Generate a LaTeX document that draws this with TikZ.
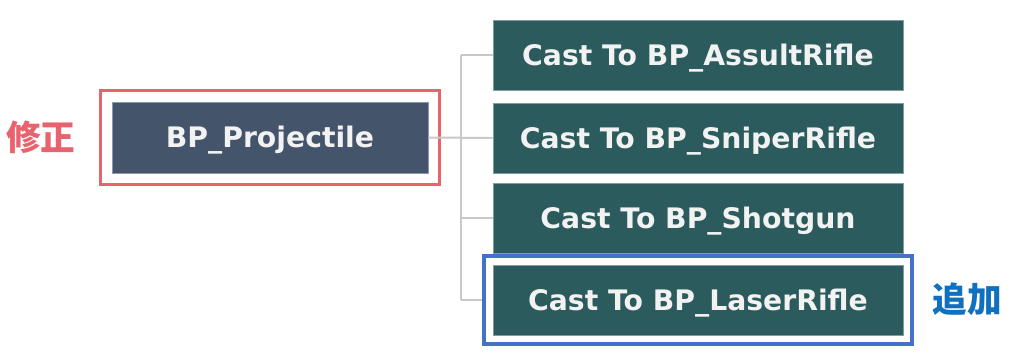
\documentclass[tikz,border=0pt]{standalone}
\usepackage{fontspec}
\setmainfont{DejaVu Sans}
\newfontfamily\jpfont{Noto Sans CJK JP}
\usepackage{tikz}
\usetikzlibrary{positioning,fit,calc}
\definecolor{cSlate}{HTML}{44546A}
\definecolor{cTeal}{HTML}{2B5B5C}
\definecolor{cRed}{HTML}{E8636E}
\definecolor{cBlue}{HTML}{4472C4}
\definecolor{cMark}{HTML}{1070C0}
\definecolor{cWire}{HTML}{C8C8C8}
\definecolor{cText}{HTML}{F2F2F2}

\begin{document}
\begin{tikzpicture}[
   x=0.75pt, y=-0.75pt,
   font=\fontsize{21.2}{24}\selectfont\bfseries,
   src/.style={fill=cSlate, draw=cSlate!60!white, line width=0.5pt, text=cText,
               minimum width=237pt, minimum height=53.25pt, inner sep=0pt,
               text height=15.5pt, text depth=0pt},
   cast/.style={fill=cTeal, draw=cTeal!60!white, line width=0.5pt, text=cText,
                minimum width=307.5pt, minimum height=52.5pt, inner sep=0pt,
                text height=15.5pt, text depth=0pt},
   frame/.style={line width=2.6pt, inner sep=#1},
   tag/.style={font=\jpfont\fontsize{26}{28}\selectfont\bfseries},
   wire/.style={cWire, line width=1.5pt}]
  \useasboundingbox (0,0) rectangle (1024,357);
  \node[src]  (proj) at (270,137.5) {BP\_Projectile};
  \node[cast] (c1) at (698,55)  {Cast To BP\_AssultRifle};
  \node[cast] (c2) at (698,138) {Cast To BP\_SniperRifle};
  \node[cast] (c3) at (698,218) {Cast To BP\_Shotgun};
  \node[cast] (c4) at (698,300) {Cast To BP\_LaserRifle};
  \node[draw=cRed,  frame=8.5pt, fit=(proj)] (redbox) {};
  \node[draw=cBlue, frame=6.5pt, fit=(c4)]   (bluebox) {};
  \node[tag, text=cRed]  (fix) at (41,137)  {修正};
  \node[tag, text=cMark] (add) at (967,299) {追加};
  % tree wires
  \coordinate (fork) at (461,138);
  \draw[wire] (proj.east) -- (c2.west);
  \draw[wire] (fork |- c1.west) -- (fork |- c4.west);
  \draw[wire] (fork |- c1.west) -- (c1.west);
  \draw[wire] (fork |- c3.west) -- (c3.west);
  \draw[wire] (fork |- c4.west) -- (bluebox.west);
\end{tikzpicture}
\end{document}
